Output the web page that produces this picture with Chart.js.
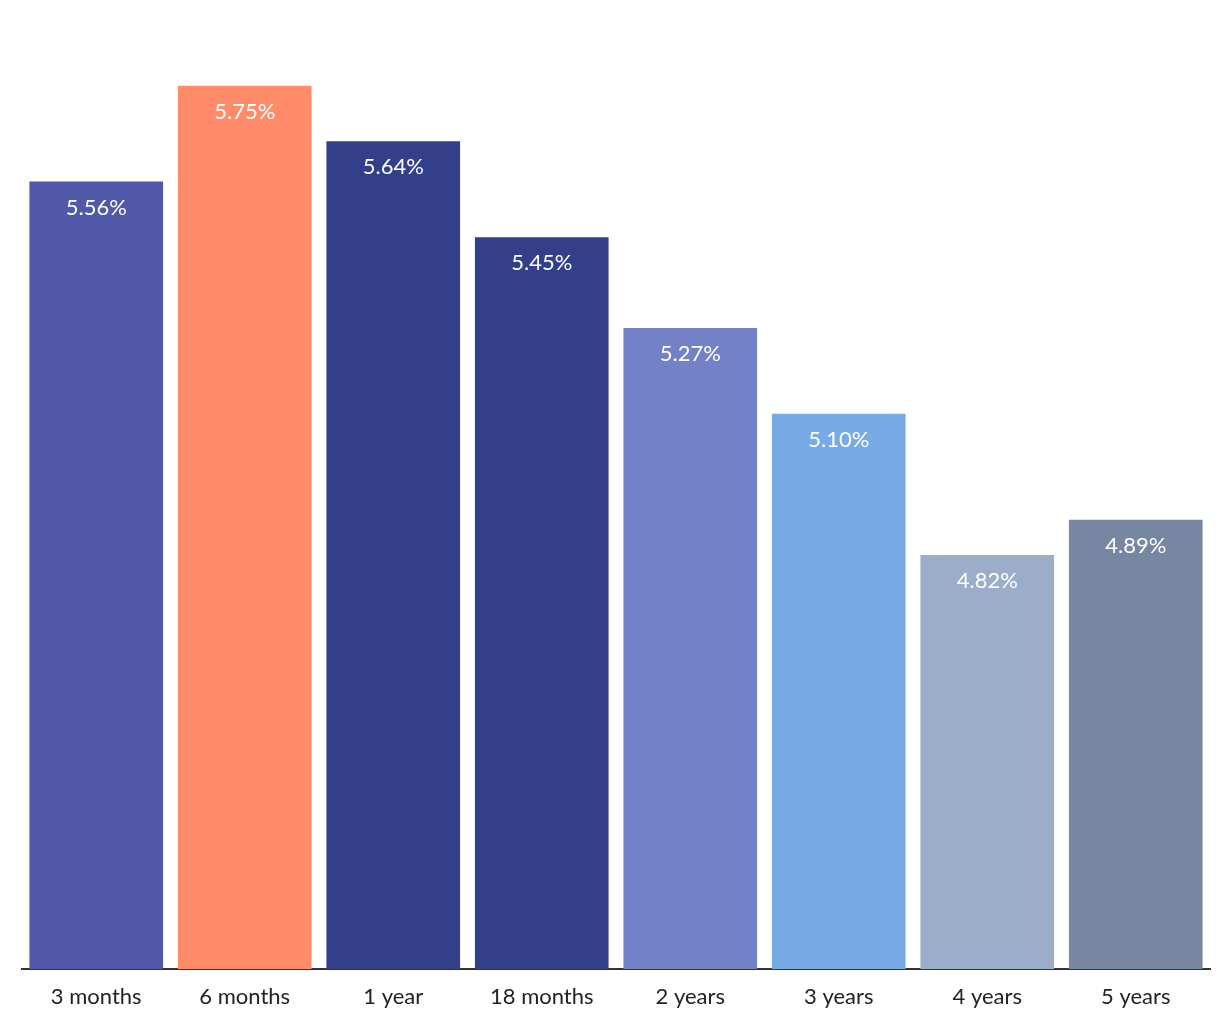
<!DOCTYPE html>
<html>
<head>
<meta charset="utf-8">
<script src="https://cdn.jsdelivr.net/npm/chart.js@4.4.1/dist/chart.umd.min.js"></script>
<style>
    html, body { margin: 0; padding: 0; background: #fff; }
    #wrap { width: 1220px; height: 1020px; position: relative; }
</style>
</head>
<body>
<div id="wrap"><canvas id="rateChart"></canvas></div>
<script>
const terms = ['3 months', '6 months', '1 year', '18 months', '2 years', '3 years', '4 years', '5 years'];
const rates = [5.56, 5.75, 5.64, 5.45, 5.27, 5.10, 4.82, 4.89];
const barColors = ['#5158a8', '#ff8b6b', '#333f8b', '#333f8b', '#7381c7', '#78aae5', '#9badc8', '#7787a2'];

const FONT = 'Lato, "Noto Sans", sans-serif';

// white value label near the top of each bar
const barLabels = {
    id: 'barLabels',
    afterDatasetsDraw(chart) {
        const ctx = chart.ctx;
        const meta = chart.getDatasetMeta(0);
        ctx.save();
        ctx.fillStyle = '#ffffff';
        ctx.font = '22px ' + FONT;
        ctx.textAlign = 'center';
        ctx.textBaseline = 'middle';
        meta.data.forEach((bar, i) => {
            ctx.fillText(rates[i].toFixed(2) + '%', bar.x, bar.y + 26);
        });
        ctx.restore();
    }
};

const ctx = document.getElementById('rateChart').getContext('2d');
new Chart(ctx, {
    type: 'bar',
    data: {
        labels: terms,
        datasets: [{
            data: rates,
            backgroundColor: barColors,
            borderWidth: 0,
            barPercentage: 0.9,
            categoryPercentage: 1.0
        }]
    },
    options: {
        responsive: true,
        maintainAspectRatio: false,
        animation: false,
        layout: { padding: { top: 10, left: 22, right: 10, bottom: 0 } },
        plugins: {
            legend: { display: false },
            tooltip: { enabled: false }
        },
        scales: {
            x: {
                grid: { display: false, drawTicks: false },
                border: { display: true, color: '#333333', width: 2 },
                ticks: {
                    color: '#222222',
                    padding: 15,
                    font: { family: FONT, size: 22 }
                },
                afterFit: (scale) => { scale.height = 51; }
            },
            y: {
                display: false,
                min: 4,
                max: 5.9
            }
        }
    },
    plugins: [barLabels]
});
</script>
</body>
</html>
